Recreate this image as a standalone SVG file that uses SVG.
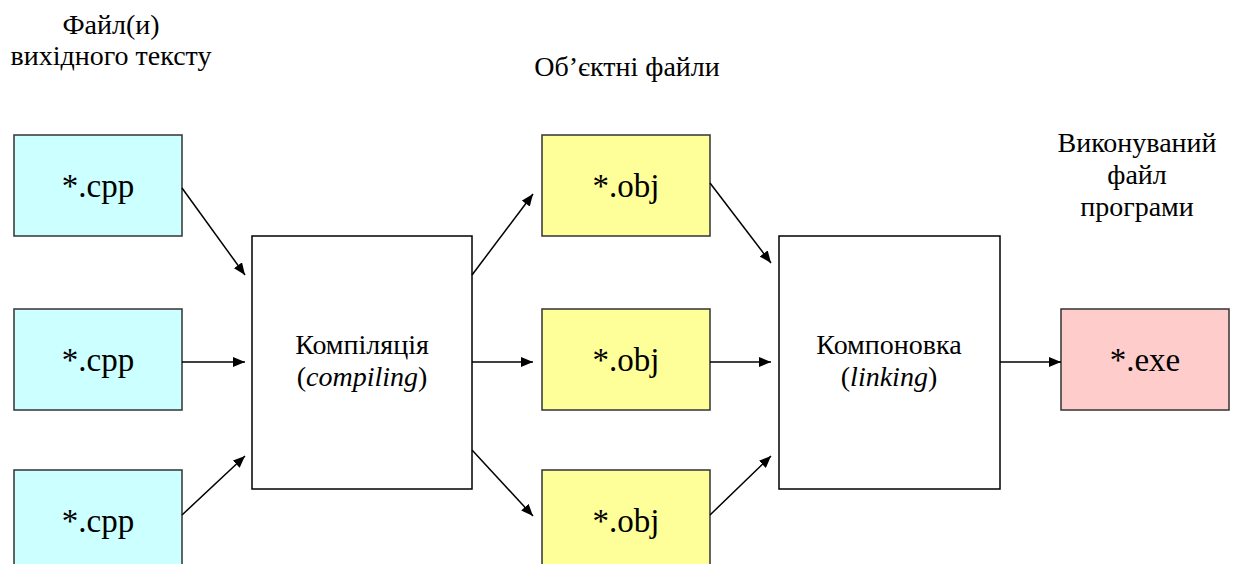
<svg xmlns="http://www.w3.org/2000/svg" width="1233" height="564" viewBox="0 0 1233 564">
  <style>
    text { fill: #000; text-anchor: middle; }
    .cap { font-size: 28px; }
    .file { font-size: 33px; }
    .step { font-size: 28px; }
    .box { stroke: #333; stroke-width: 1.5; }
    .cpp { fill: #CCFFFF; }
    .obj { fill: #FFFF99; }
    .exe { fill: #FFCCCC; }
    .proc { fill: #fff; stroke: #000; stroke-width: 1.5; }
    .edge { stroke: #000; stroke-width: 1.5; fill: none; marker-end: url(#arrow); }
  </style>
  <defs>
    <marker id="arrow" viewBox="0 0 12 10" refX="12" refY="5" markerWidth="12" markerHeight="10" markerUnits="userSpaceOnUse" orient="auto">
      <path d="M0,0 L12,5 L0,10 z" fill="#000"/>
    </marker>
  </defs>

  <rect width="1233" height="564" fill="#fff"/>

  <g font-family="Liberation Serif, Times New Roman, DejaVu Serif, serif">
  <!-- column captions -->
  <g id="caption-source">
    <text class="cap" x="111" y="34">Файл(и)</text>
    <text class="cap" x="111" y="65">вихідного тексту</text>
  </g>
  <g id="caption-objects">
    <text class="cap" x="627" y="76">Об’єктні файли</text>
  </g>
  <g id="caption-exe">
    <text class="cap" x="1137" y="152">Виконуваний</text>
    <text class="cap" x="1137" y="184">файл</text>
    <text class="cap" x="1137" y="216">програми</text>
  </g>

  <!-- source files -->
  <g id="cpp1">
    <rect class="box cpp" x="14" y="135" width="168" height="101"/>
    <text class="file" x="98" y="197">*.cpp</text>
  </g>
  <g id="cpp2">
    <rect class="box cpp" x="14" y="309" width="168" height="101"/>
    <text class="file" x="98" y="371">*.cpp</text>
  </g>
  <g id="cpp3">
    <rect class="box cpp" x="14" y="470" width="168" height="101"/>
    <text class="file" x="98" y="532">*.cpp</text>
  </g>

  <!-- compile step -->
  <g id="compile">
    <rect class="proc" x="252" y="236" width="220" height="253"/>
    <text class="step" x="362" y="354">Компіляція</text>
    <text class="step" x="362" y="386">(<tspan font-style="italic">compiling</tspan>)</text>
  </g>

  <!-- object files -->
  <g id="obj1">
    <rect class="box obj" x="542" y="135" width="168" height="101"/>
    <text class="file" x="626" y="197">*.obj</text>
  </g>
  <g id="obj2">
    <rect class="box obj" x="542" y="309" width="168" height="101"/>
    <text class="file" x="626" y="371">*.obj</text>
  </g>
  <g id="obj3">
    <rect class="box obj" x="542" y="470" width="168" height="101"/>
    <text class="file" x="626" y="532">*.obj</text>
  </g>

  <!-- link step -->
  <g id="link">
    <rect class="proc" x="779" y="236" width="221" height="253"/>
    <text class="step" x="889" y="354">Компоновка</text>
    <text class="step" x="889" y="386">(<tspan font-style="italic">linking</tspan>)</text>
  </g>

  <!-- executable -->
  <g id="exe">
    <rect class="box exe" x="1061" y="309" width="168" height="101"/>
    <text class="file" x="1145" y="371">*.exe</text>
  </g>
  </g>

  <!-- connectors -->
  <g id="edges">
    <line class="edge" x1="182" y1="188" x2="245" y2="275"/>
    <line class="edge" x1="182" y1="362" x2="245" y2="362"/>
    <line class="edge" x1="182" y1="515" x2="245" y2="456"/>
    <line class="edge" x1="472" y1="275" x2="533" y2="194"/>
    <line class="edge" x1="472" y1="362" x2="533" y2="362"/>
    <line class="edge" x1="472" y1="450" x2="533" y2="516"/>
    <line class="edge" x1="710" y1="183" x2="771" y2="263"/>
    <line class="edge" x1="710" y1="362" x2="771" y2="362"/>
    <line class="edge" x1="710" y1="515" x2="771" y2="456"/>
    <line class="edge" x1="1000" y1="362" x2="1061" y2="362"/>
  </g>
</svg>
